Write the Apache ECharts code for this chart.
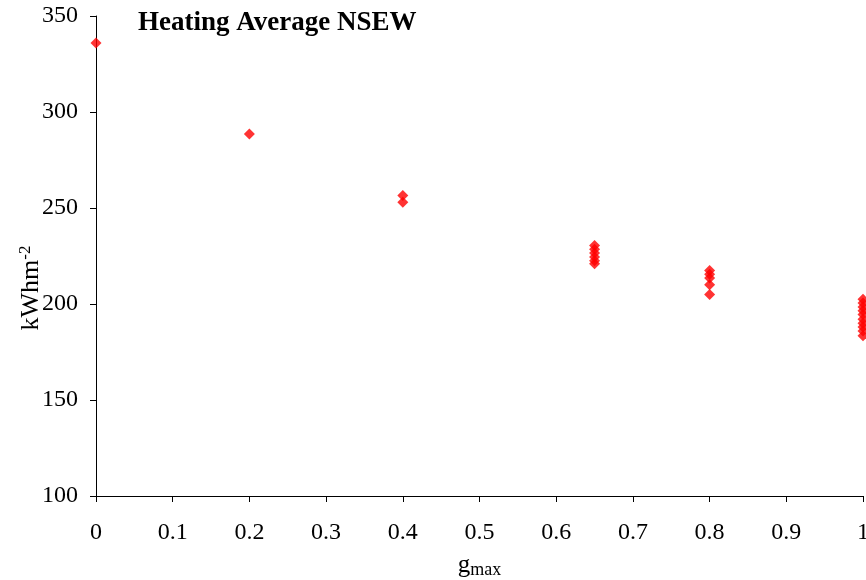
<!DOCTYPE html>
<html>
<head>
<meta charset="utf-8">
<script src="https://cdn.jsdelivr.net/npm/echarts@6/dist/echarts.min.js"></script>
<style>
  html, body { margin: 0; padding: 0; background: #fff; }
  #chart { width: 866px; height: 580px; }
</style>
</head>
<body>
<div id="chart"></div>
<script>
// Heating demand (kWh per m²) against maximum g-value, averaged over N/S/E/W orientations
const gmax0 = [0];
const heat0 = [336];
const gmax02 = [0.2];
const heat02 = [288.5];
const gmax04 = [0.4, 0.4];
const heat04 = [256.5, 253];
const gmax065 = [0.65, 0.65, 0.65, 0.65, 0.65, 0.65];
const heat065 = [230.5, 228.5, 226.5, 224.5, 222.5, 221];
const gmax08 = [0.8, 0.8, 0.8, 0.8, 0.8];
const heat08 = [217.5, 215.5, 213.5, 210, 205];
const gmax1 = [1, 1, 1, 1, 1, 1, 1, 1, 1, 1];
const heat1 = [202.5, 200.5, 198.5, 196.5, 194.5, 192, 190, 188, 186, 183.5];

const xTicks = [0, 0.1, 0.2, 0.3, 0.4, 0.5, 0.6, 0.7, 0.8, 0.9, 1];
const yTicks = [100, 150, 200, 250, 300, 350];

const groupsX = [gmax0, gmax02, gmax04, gmax065, gmax08, gmax1];
const groupsY = [heat0, heat02, heat04, heat065, heat08, heat1];
const points = [];
groupsX.forEach((xs, g) => xs.forEach((x, i) => points.push([x, groupsY[g][i]])));

const FONT = '"Liberation Serif", "DejaVu Serif", serif';
const chart = echarts.init(document.getElementById('chart'));
chart.setOption({
  backgroundColor: '#ffffff',
  animation: false,
  title: {
    text: 'Heating Average NSEW',
    left: 133,
    top: 5,
    textStyle: { fontFamily: FONT, fontSize: 27, fontWeight: 'bold', color: '#000' }
  },
  grid: { left: 96, right: 3, top: 16, bottom: 84, containLabel: false, outerBoundsMode: 'none' },
  xAxis: {
    type: 'value',
    min: xTicks[0],
    max: xTicks[xTicks.length - 1],
    interval: 0.1,
    name: '{g|g}{s|max}',
    nameLocation: 'middle',
    nameGap: 55,
    nameMoveOverlap: false,
    nameTextStyle: {
      rich: {
        g: { fontFamily: FONT, fontSize: 25, color: '#000' },
        s: { fontFamily: FONT, fontSize: 18, color: '#000', padding: [10, 0, 0, 0] }
      }
    },
    axisLine: { show: true, lineStyle: { color: '#000', width: 1 } },
    axisTick: { show: true, inside: false, length: 6, lineStyle: { color: '#000' } },
    axisLabel: {
      margin: 25,
      hideOverlap: false,
      fontFamily: FONT, fontSize: 24, color: '#000',
      formatter: v => String(Math.round(v * 10) / 10)
    },
    splitLine: { show: false }
  },
  yAxis: {
    type: 'value',
    min: yTicks[0],
    max: yTicks[yTicks.length - 1],
    interval: 50,
    name: '{a|kWhm}{b|-2}',
    nameLocation: 'middle',
    nameGap: 50,
    nameRotate: 90,
    nameMoveOverlap: false,
    nameTextStyle: {
      padding: [0, 64, 0, 0],
      rich: {
        a: { fontFamily: FONT, fontSize: 26, color: '#000' },
        b: { fontFamily: FONT, fontSize: 17, color: '#000', padding: [0, 0, 12, 0] }
      }
    },
    axisLine: { show: true, lineStyle: { color: '#000', width: 1 } },
    axisTick: { show: true, inside: false, length: 6, lineStyle: { color: '#000' } },
    axisLabel: { margin: 18, fontFamily: FONT, fontSize: 24, color: '#000' },
    splitLine: { show: false }
  },
  series: [{
    type: 'scatter',
    symbol: 'diamond',
    symbolSize: 11,
    clip: false,
    itemStyle: { color: '#ff0000' },
    data: points
  }]
});
</script>
</body>
</html>
